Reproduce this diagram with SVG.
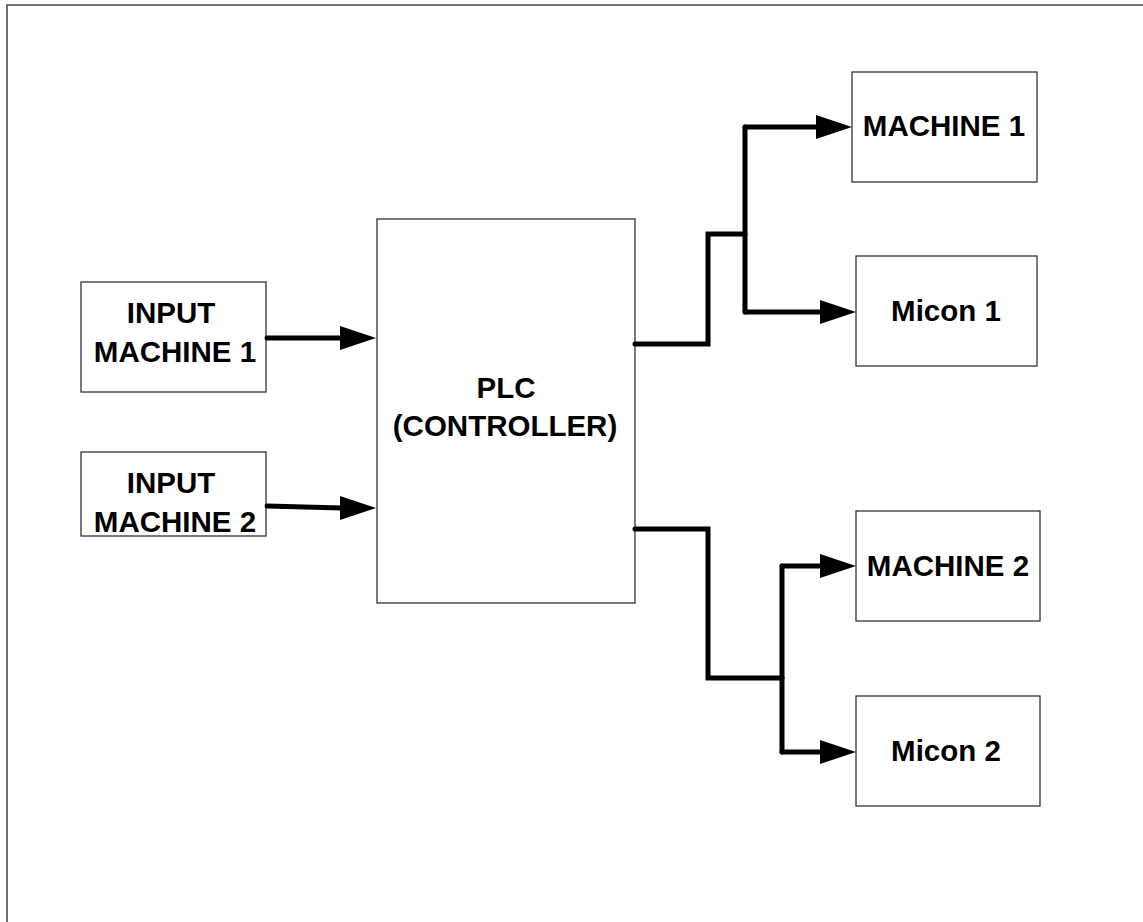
<svg xmlns="http://www.w3.org/2000/svg" width="1143" height="922" viewBox="0 0 1143 922">
<defs>
<style>
.box{fill:#ffffff;stroke:#333333;stroke-width:1.3}
.lbl{font-family:"Liberation Sans",Arial,sans-serif;font-weight:bold;font-size:29.5px;fill:#000000;text-anchor:middle}
.wire{fill:none;stroke:#000000;stroke-width:5;stroke-linecap:round;stroke-linejoin:miter}
.head{fill:#000000}
</style>
</defs>
<rect x="0" y="0" width="1143" height="922" fill="#ffffff"/>
<path d="M7,922 V5 H1143" fill="none" stroke="#4a4a4a" stroke-width="1.6"/>

<g id="input1">
<rect class="box" x="81" y="282" width="185" height="110"/>
<text class="lbl" x="171" y="323">INPUT</text>
<text class="lbl" x="175" y="362">MACHINE 1</text>
</g>
<g id="input2">
<rect class="box" x="81" y="452" width="185" height="84"/>
<text class="lbl" x="171" y="493">INPUT</text>
<text class="lbl" x="175" y="532">MACHINE 2</text>
</g>
<g id="plc">
<rect class="box" x="377" y="219" width="258" height="384"/>
<text class="lbl" x="506" y="398">PLC</text>
<text class="lbl" x="505" y="436">(CONTROLLER)</text>
</g>
<g id="machine1">
<rect class="box" x="852" y="72" width="185" height="110"/>
<text class="lbl" x="944" y="136">MACHINE 1</text>
</g>
<g id="micon1">
<rect class="box" x="856" y="256" width="181" height="110"/>
<text class="lbl" x="946" y="321">Micon 1</text>
</g>
<g id="machine2">
<rect class="box" x="856" y="511" width="184" height="110"/>
<text class="lbl" x="948" y="576">MACHINE 2</text>
</g>
<g id="micon2">
<rect class="box" x="856" y="696" width="184" height="110"/>
<text class="lbl" x="946" y="761">Micon 2</text>
</g>

<g id="connectors">
<path class="wire" d="M267,338 H342"/>
<polygon class="head" points="340,326 376,338 340,350"/>
<path class="wire" d="M267,506 L342,508"/>
<polygon class="head" points="340,496 376,508 340,520"/>

<path class="wire" d="M635,344 H708 V234 H745"/>
<path class="wire" d="M745,127 V312"/>
<path class="wire" d="M745,127 H818"/>
<polygon class="head" points="816,115 852,127 816,139"/>
<path class="wire" d="M745,312 H822"/>
<polygon class="head" points="820,300 856,312 820,324"/>

<path class="wire" d="M635,529 H708 V678 H782"/>
<path class="wire" d="M782,566 V752"/>
<path class="wire" d="M782,566 H822"/>
<polygon class="head" points="820,554 856,566 820,578"/>
<path class="wire" d="M782,752 H822"/>
<polygon class="head" points="820,740 856,752 820,764"/>
</g>
</svg>
